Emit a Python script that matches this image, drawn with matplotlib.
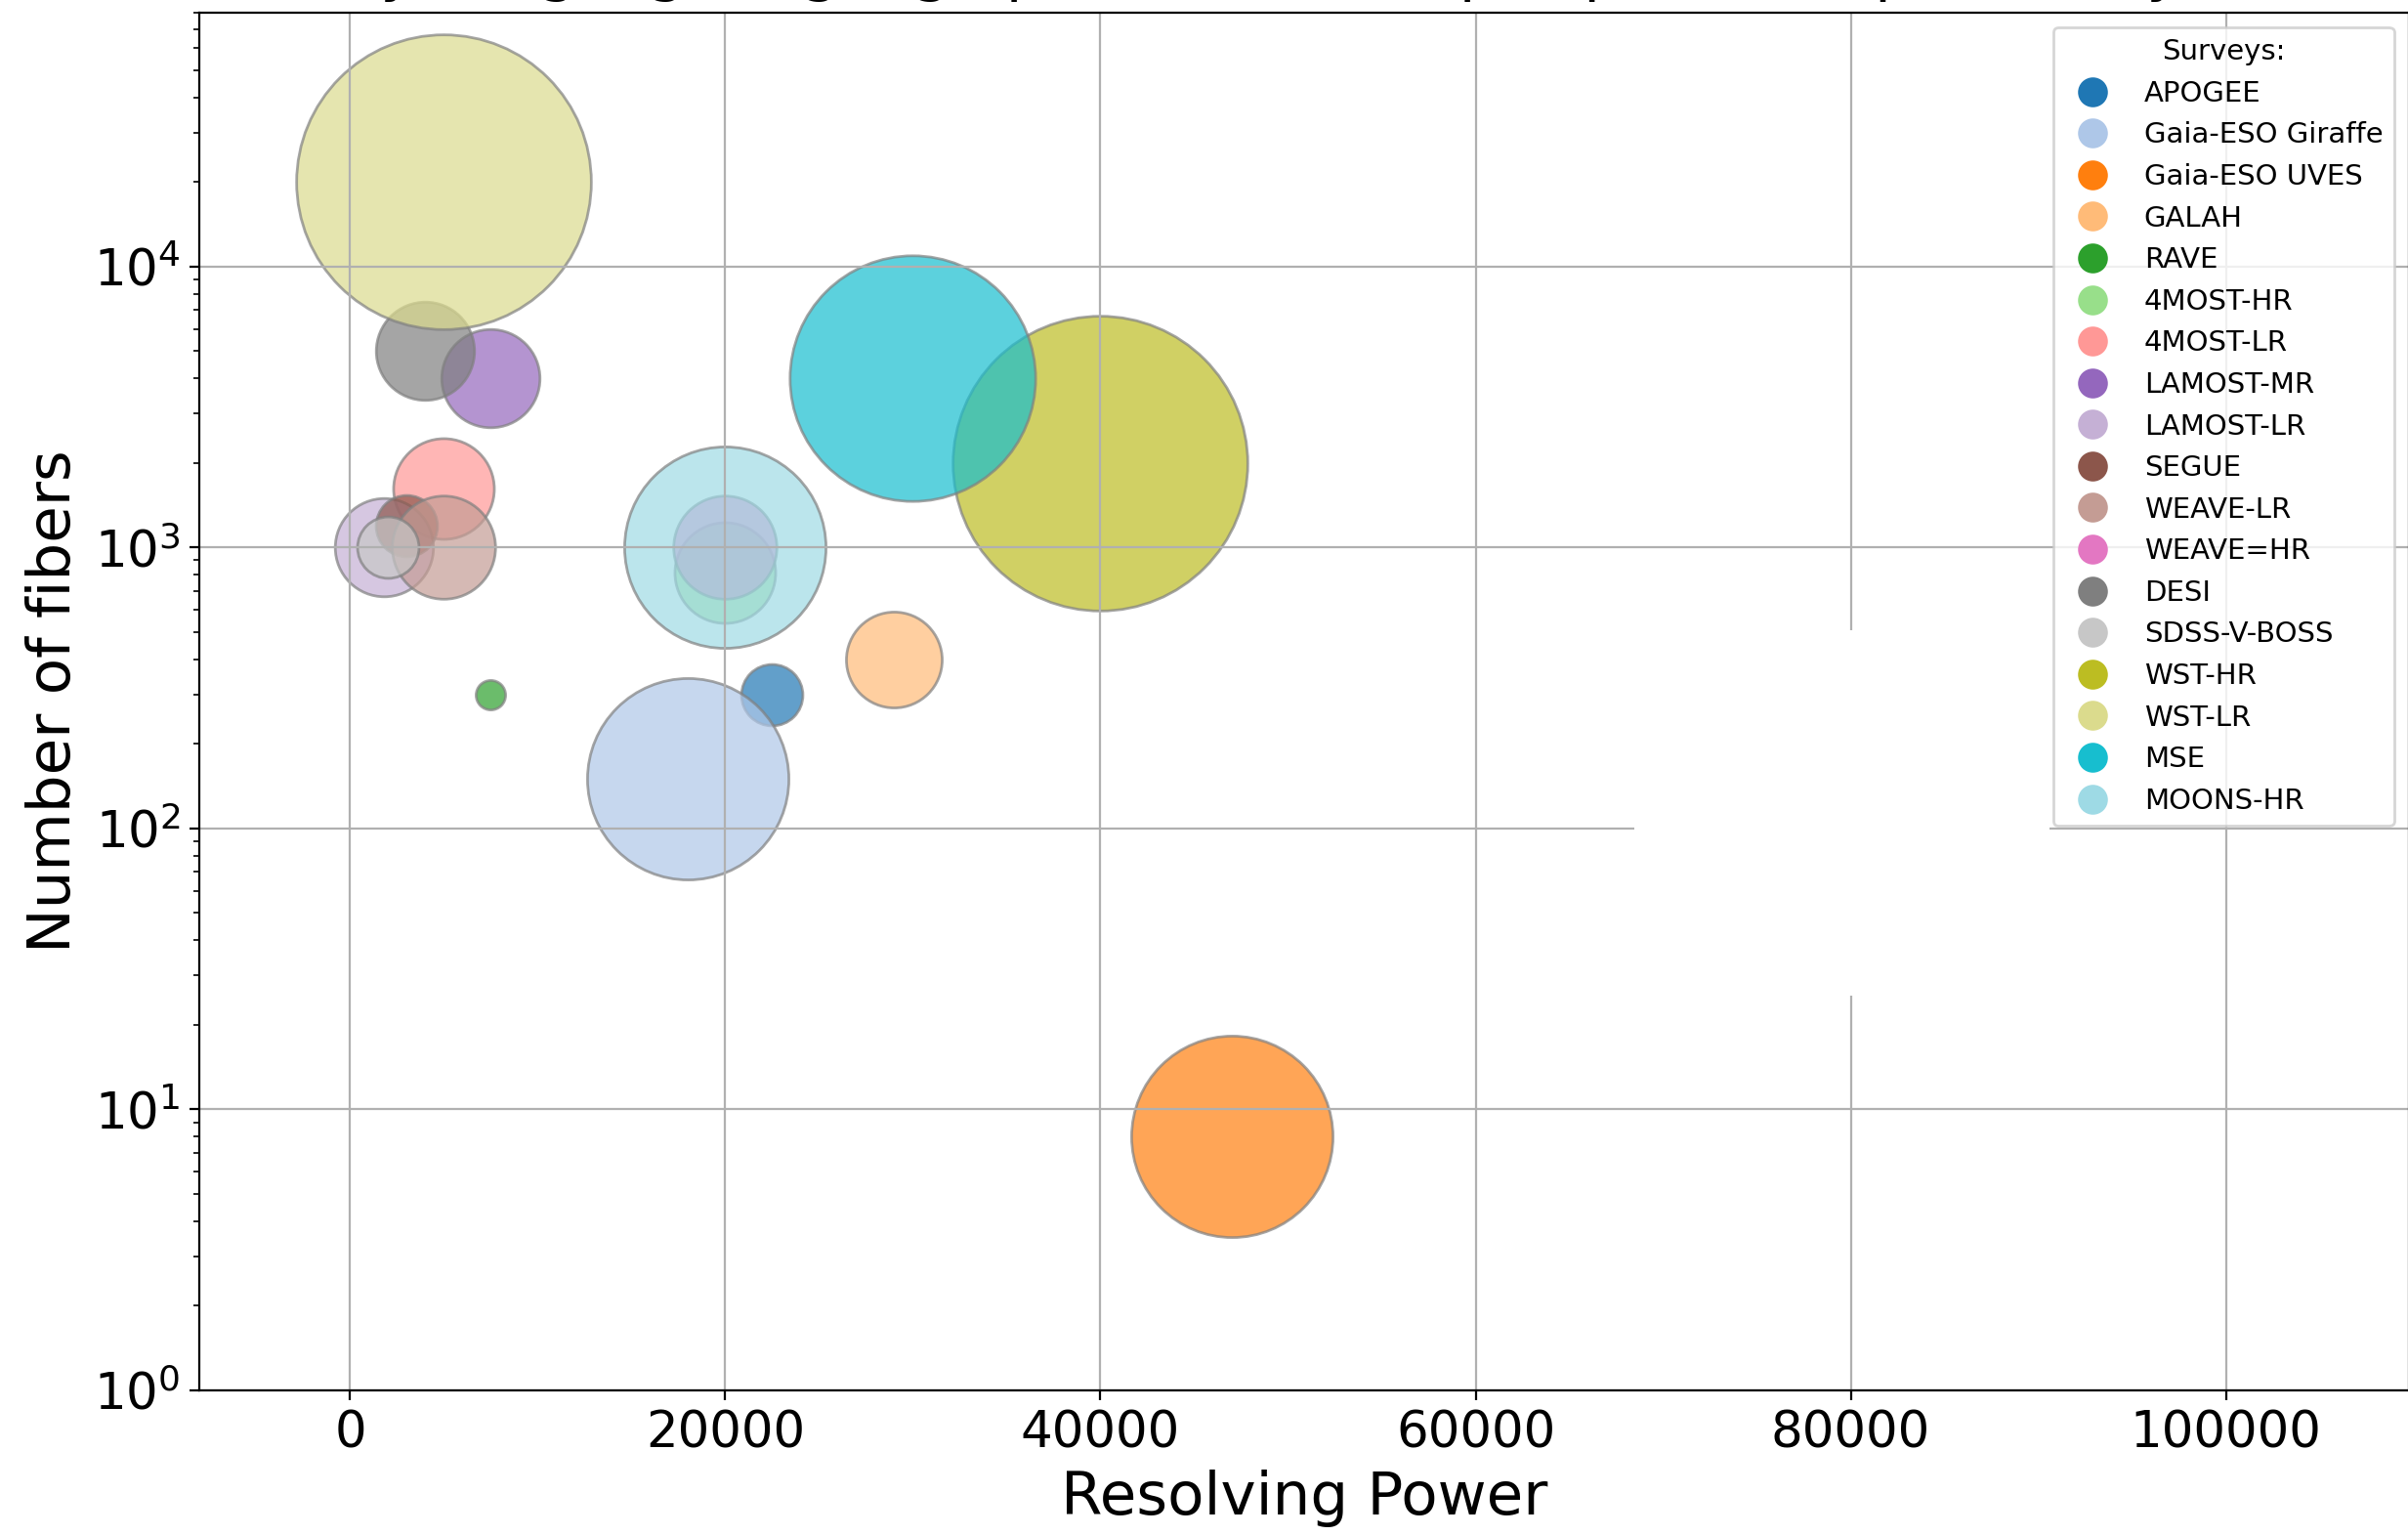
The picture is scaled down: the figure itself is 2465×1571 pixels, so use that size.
import matplotlib
matplotlib.use("Agg")
import matplotlib.pyplot as plt
from matplotlib.lines import Line2D
from matplotlib.patches import Rectangle

# survey data
surveys = ["APOGEE", "Gaia-ESO Giraffe", "Gaia-ESO UVES", "GALAH", "RAVE",
           "4MOST-HR", "4MOST-LR", "LAMOST-MR", "LAMOST-LR", "SEGUE",
           "WEAVE-LR", "WEAVE=HR", "DESI", "SDSS-V-BOSS", "WST-HR",
           "WST-LR", "MSE", "MOONS-HR"]
resolving_power = [22500, 18000, 47000, 29000, 7500,
                   20000, 5000, 7500, 1800, 3000,
                   5000, 20000, 4000, 2000, 40000,
                   5000, 30000, 20000]
n_fibers = [300, 150, 8, 400, 300,
            812, 1624, 4000, 1000, 1200,
            1000, 1000, 5000, 1000, 2000,
            20000, 4000, 1000]
aperture = [2.5, 8.2, 8.2, 3.9, 1.2,
            4.1, 4.1, 4.0, 4.0, 2.5,
            4.2, 4.2, 4.0, 2.5, 12.0,
            12.0, 10.0, 8.2]  # telescope diameter (m) -> bubble size
colors = ["#1f77b4", "#aec7e8", "#ff7f0e", "#ffbb78", "#2ca02c",
          "#98df8a", "#ff9896", "#9467bd", "#c5b0d5", "#8c564b",
          "#c49c94", "#e377c2", "#7f7f7f", "#c7c7c7", "#bcbd22",
          "#dbdb8d", "#17becf", "#9edae5"]

fig = plt.figure(figsize=(12.325, 7.855), dpi=200)
ax = fig.add_axes([0.0828, 0.0942, 0.9175, 0.8975])

for name, r, n, d, c in zip(surveys, resolving_power, n_fibers, aperture, colors):
    ax.scatter(r, n, s=(9.05 * d) ** 2, color=c, alpha=0.7,
               edgecolors="grey", linewidths=1)

ax.set_yscale("log")
ax.set_xlim(-8040, 109750)
ax.set_ylim(1, 8e4)
ax.set_xticks([0, 20000, 40000, 60000, 80000, 100000])
ax.grid(True)
ax.tick_params(labelsize=18.5)
ax.set_xlabel("Resolving Power", fontsize=22)
ax.set_ylabel("Number of fibers", fontsize=22)

# blank box covering part of the grid
ax.add_patch(Rectangle((0.6496, 0.2865), 0.1878, 0.2653, transform=ax.transAxes,
                       facecolor="white", edgecolor="none", zorder=2))

handles = [Line2D([], [], marker="o", ls="", color=c, markersize=10) for c in colors]
ax.legend(handles, surveys, title="Surveys:", loc="upper right",
          fontsize=10.5, title_fontsize=10.5)

# title sits mostly above the visible area (cut off like the source)
fig.text(0.5419, 1.007, "Surveys, highlighting big aperture telescope spectroscopic surveys (R, N)",
         ha="center", va="baseline", fontsize=22)

fig.savefig("out.png", dpi=200)
